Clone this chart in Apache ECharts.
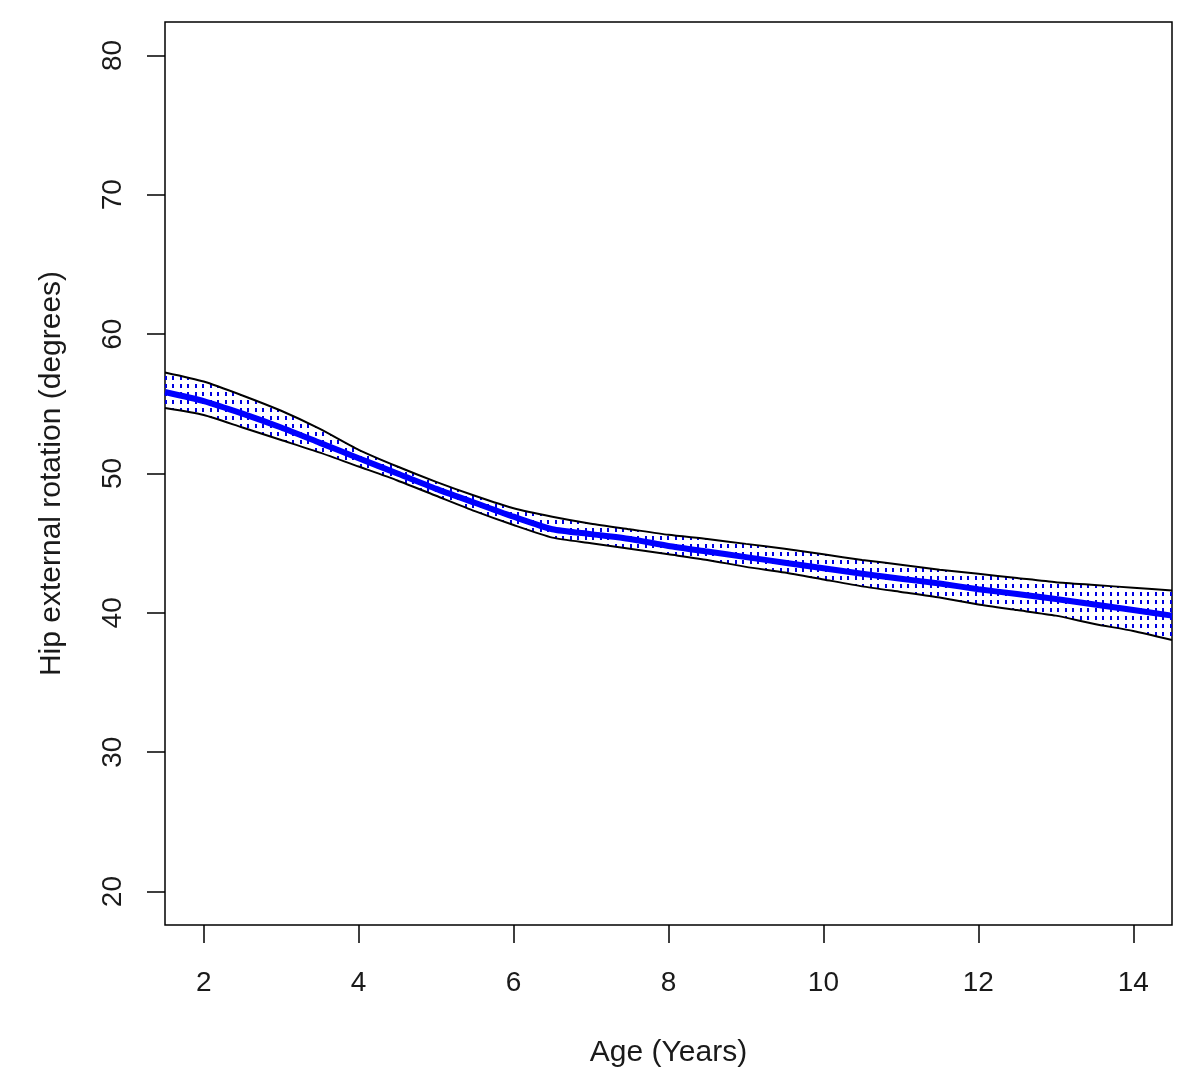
<!DOCTYPE html>
<html><head><meta charset="utf-8">
<script src="https://cdn.jsdelivr.net/npm/echarts@6/dist/echarts.min.js"></script>
<style>html,body{margin:0;padding:0;background:#fff}#chart{width:1200px;height:1091px}</style>
</head><body><div id="chart"></div>
<script>
const ages = [1.5,2,2.5,3,3.5,4,4.5,5,5.5,6,6.5,7,7.5,8,8.5,9,9.5,10,10.5,11,11.5,12,12.5,13,13.5,14,14.5];
const meanRotation  = [55.85,55.2,54.3,53.3,52.2,51.1,50.0,48.9,47.9,46.9,46.0,45.65,45.3,44.8,44.4,44.0,43.6,43.2,42.8,42.45,42.1,41.7,41.35,41.0,40.6,40.2,39.8];
const upperRotation = [57.25,56.6,55.6,54.5,53.2,51.7,50.5,49.4,48.4,47.5,46.9,46.4,46.0,45.6,45.3,44.95,44.6,44.2,43.8,43.45,43.1,42.8,42.5,42.2,42.0,41.8,41.6];
const lowerRotation = [54.7,54.2,53.3,52.4,51.5,50.5,49.5,48.4,47.3,46.3,45.4,45.0,44.6,44.2,43.8,43.3,42.9,42.4,41.9,41.5,41.1,40.6,40.2,39.8,39.2,38.7,38.05];
const xTicks = [2,4,6,8,10,12,14];
const yTicks = [20,30,40,50,60,70,80];

const FONT = '"Liberation Sans", Arial, sans-serif';
const TXT = '#1a1a1a';

const pc = document.createElement('canvas');
pc.width = 15; pc.height = 8;
const g = pc.getContext('2d');
g.fillStyle = '#0000e0';
g.fillRect(0, 0, 2, 4);
g.fillRect(7, 0, 2, 4);
const hatch = { image: pc, repeat: 'repeat' };

const pairs = arr => ages.map((a, i) => [a, arr[i]]);

const chart = echarts.init(document.getElementById('chart'), null, { renderer: 'canvas' });
chart.setOption({
  animation: false,
  backgroundColor: '#fff',
  grid: { left: 165, right: 28, top: 22, bottom: 166, show: true, borderColor: '#000', borderWidth: 1.5, backgroundColor: 'transparent' },
  xAxis: {
    type: 'value', min: 1.5, max: 14.5,
    axisLine: { show: false },
    axisTick: { show: true, inside: false, length: 18, lineStyle: { color: '#000', width: 1.5 }, customValues: xTicks },
    axisLabel: { customValues: xTicks, margin: 44, fontSize: 28, color: TXT, fontFamily: FONT },
    splitLine: { show: false },
    name: 'Age (Years)', nameLocation: 'middle', nameGap: 113,
    nameTextStyle: { fontSize: 30, color: TXT, fontFamily: FONT }
  },
  yAxis: {
    type: 'value', min: 17.6, max: 82.4,
    axisLine: { show: false },
    axisTick: { show: true, inside: false, length: 18, lineStyle: { color: '#000', width: 1.5 }, customValues: yTicks },
    axisLabel: { customValues: yTicks, rotate: 90, margin: 38, fontSize: 28, color: TXT, fontFamily: FONT },
    splitLine: { show: false },
    name: 'Hip external rotation (degrees)', nameLocation: 'middle', nameGap: 98,
    nameTextStyle: { fontSize: 30, color: TXT, fontFamily: FONT }
  },
  series: [
    {
      type: 'custom', silent: true, clip: true, z: 1,
      data: [[ages[0], lowerRotation[0]]],
      renderItem: function (params, api) {
        const pts = [];
        for (let i = 0; i < ages.length; i++) pts.push(api.coord([ages[i], lowerRotation[i]]));
        for (let i = ages.length - 1; i >= 0; i--) pts.push(api.coord([ages[i], upperRotation[i]]));
        return { type: 'polygon', shape: { points: pts }, style: { fill: hatch, stroke: null } };
      }
    },
    { type: 'line', data: pairs(upperRotation), showSymbol: false, smooth: 0.2, clip: true, z: 2, lineStyle: { color: '#000', width: 2 } },
    { type: 'line', data: pairs(lowerRotation), showSymbol: false, smooth: 0.2, clip: true, z: 2, lineStyle: { color: '#000', width: 2 } },
    { type: 'line', data: pairs(meanRotation), showSymbol: false, smooth: 0.2, clip: true, z: 3, lineStyle: { color: '#0000ff', width: 6 } }
  ]
});
</script>
</body></html>
